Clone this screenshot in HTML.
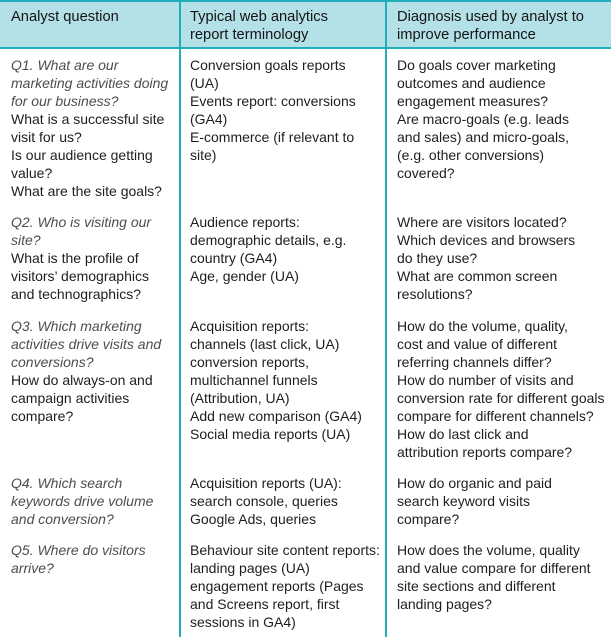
<!DOCTYPE html>
<html>
<head>
<meta charset="utf-8">
<style>
  html, body { margin: 0; padding: 0; }
  body { width: 611px; height: 637px; position: relative; overflow: hidden; background: #ffffff;
         font-family: "Liberation Sans", Arial, sans-serif; font-size: 14px; }
  .hdr { position: absolute; left: 0; top: 0; width: 611px; height: 48px; background: #b4e1e7; }
  .hl { position: absolute; left: 0; width: 611px; background: #22adbd; }
  .vl { position: absolute; top: 0; width: 2px; height: 637px; background: #22adbd; }
  .c { position: absolute; line-height: 18px; white-space: nowrap; color: #1e1e1e; }
  .h { color: #141414; font-size: 14.7px; }
  .i { font-style: italic; color: #4d4d4d; }
</style>
</head>
<body>
  <div class="hdr"></div>
  <div class="hl" style="top:0;height:2px;"></div>
  <div class="hl" style="top:47px;height:2px;"></div>
  <div class="vl" style="left:179px;"></div>
  <div class="vl" style="left:385px;"></div>

  <!-- header -->
  <div class="c h" style="left:11px;top:8px;">Analyst question</div>
  <div class="c h" style="left:190px;top:8px;">Typical web analytics<br>report terminology</div>
  <div class="c h" style="left:397px;top:8px;">Diagnosis used by analyst to<br>improve performance</div>

  <!-- Q1 -->
  <div class="c" style="left:11px;top:56px;"><span class="i">Q1. What are our<br>marketing activities doing<br>for our business?</span><br>What is a successful site<br>visit for us?<br>Is our audience getting<br>value?<br>What are the site goals?</div>
  <div class="c" style="left:190px;top:56px;">Conversion goals reports<br>(UA)<br>Events report: conversions<br>(GA4)<br>E-commerce (if relevant to<br>site)</div>
  <div class="c" style="left:397px;top:56px;">Do goals cover marketing<br>outcomes and audience<br>engagement measures?<br>Are macro-goals (e.g. leads<br>and sales) and micro-goals,<br>(e.g. other conversions)<br>covered?</div>

  <!-- Q2 -->
  <div class="c" style="left:11px;top:213px;"><span class="i">Q2. Who is visiting our<br>site?</span><br>What is the profile of<br>visitors’ demographics<br>and technographics?</div>
  <div class="c" style="left:190px;top:213px;">Audience reports:<br>demographic details, e.g.<br>country (GA4)<br>Age, gender (UA)</div>
  <div class="c" style="left:397px;top:213px;">Where are visitors located?<br>Which devices and browsers<br>do they use?<br>What are common screen<br>resolutions?</div>

  <!-- Q3 -->
  <div class="c" style="left:11px;top:317px;"><span class="i">Q3. Which marketing<br>activities drive visits and<br>conversions?</span><br>How do always-on and<br>campaign activities<br>compare?</div>
  <div class="c" style="left:190px;top:317px;">Acquisition reports:<br>channels (last click, UA)<br>conversion reports,<br>multichannel funnels<br>(Attribution, UA)<br>Add new comparison (GA4)<br>Social media reports (UA)</div>
  <div class="c" style="left:397px;top:317px;">How do the volume, quality,<br>cost and value of different<br>referring channels differ?<br>How do number of visits and<br>conversion rate for different goals<br>compare for different channels?<br>How do last click and<br>attribution reports compare?</div>

  <!-- Q4 -->
  <div class="c" style="left:11px;top:474px;"><span class="i">Q4. Which search<br>keywords drive volume<br>and conversion?</span></div>
  <div class="c" style="left:190px;top:474px;">Acquisition reports (UA):<br>search console, queries<br>Google Ads, queries</div>
  <div class="c" style="left:397px;top:474px;">How do organic and paid<br>search keyword visits<br>compare?</div>

  <!-- Q5 -->
  <div class="c" style="left:11px;top:541px;"><span class="i">Q5. Where do visitors<br>arrive?</span></div>
  <div class="c" style="left:190px;top:541px;">Behaviour site content reports:<br>landing pages (UA)<br>engagement reports (Pages<br>and Screens report, first<br>sessions in GA4)</div>
  <div class="c" style="left:397px;top:541px;">How does the volume, quality<br>and value compare for different<br>site sections and different<br>landing pages?</div>
</body>
</html>
